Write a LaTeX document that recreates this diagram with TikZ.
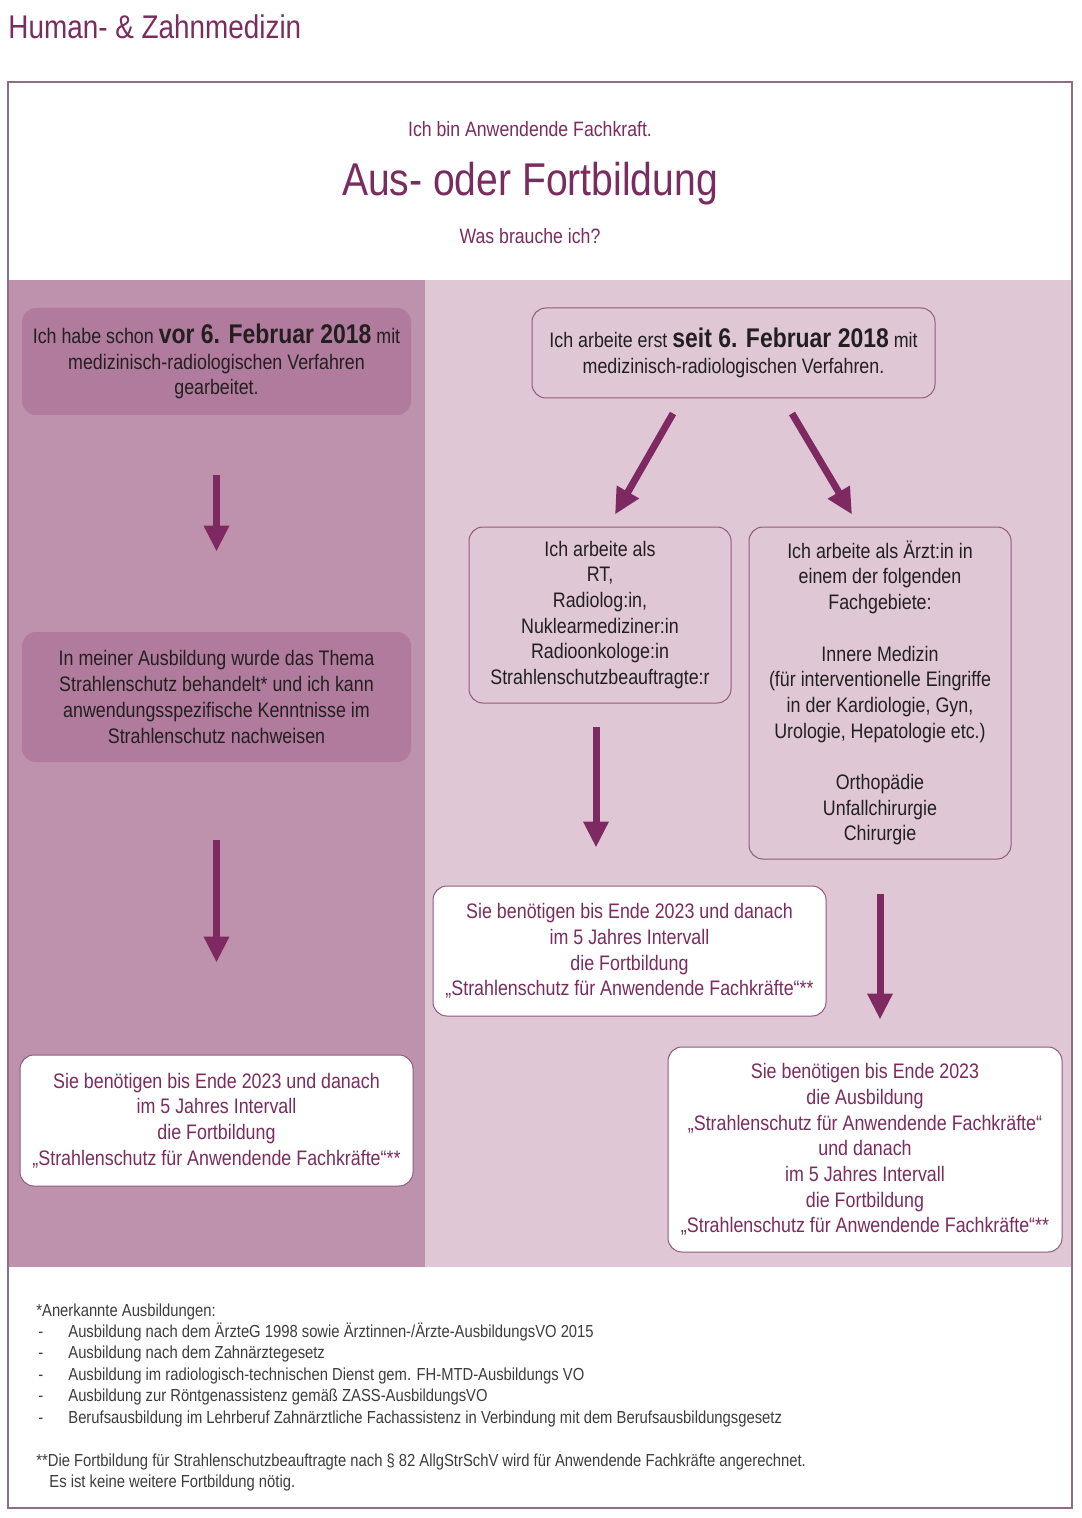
\documentclass[tikz,border=0pt]{standalone}
\usepackage{fontspec}
\setmainfont{Liberation Sans}[FakeStretch=0.85]
\usepackage{xcolor}
\usetikzlibrary{positioning,calc,arrows.meta}
\definecolor{plum}{HTML}{7A2C5E}
\definecolor{arrowplum}{HTML}{7E2962}
\definecolor{frameline}{HTML}{8C6E86}
\definecolor{leftpanel}{HTML}{BE91AD}
\definecolor{leftbox}{HTML}{B07B9C}
\definecolor{rightpanel}{HTML}{DFC7D6}
\definecolor{boxline}{HTML}{8E5A7E}
\definecolor{inktext}{HTML}{231F20}
\definecolor{notegray}{HTML}{3C3C3C}
\newcommand{\datum}[1]{{\fontsize{13.5}{12.85}\selectfont\bfseries #1}}

\begin{document}
\begin{tikzpicture}[x=0.5pt, y=-0.5pt,
  darkbox/.style={fill=leftbox, rounded corners=7pt, inner xsep=4pt, align=center, text=inktext, font=\fontsize{10.5}{12.85}\selectfont},
  linebox/.style={draw=boxline, line width=0.5pt, fill=rightpanel, rounded corners=7pt, inner xsep=4pt, align=center, text=inktext, font=\fontsize{10.5}{12.85}\selectfont},
  whitebox/.style={linebox, fill=white, text=plum},
  note/.style={inner sep=0pt, anchor=base west, text=notegray, font=\fontsize{8.7}{10.75}\selectfont},
  flow/.style={-{Triangle[length=13pt,width=12pt]}, line width=3.5pt, draw=arrowplum}]
\useasboundingbox (0,0) rectangle (1081,1518);
% Hintergrund
\fill[leftpanel] (8,280) rectangle (425,1267);
\fill[rightpanel] (425,280) rectangle (1072,1267);
\draw[frameline, line width=0.6pt] (8,82) rectangle (1072,1508);
% Kopf
\node[inner sep=0pt, anchor=base west, text=plum, font=\fontsize{16.4}{20}\selectfont] (rubrik) at (8,39) {Human- \& Zahnmedizin};
\node[inner sep=0pt, anchor=base, text=plum, font=\fontsize{10.4}{13}\selectfont] (rolle) at (530,137) {Ich bin Anwendende Fachkraft.};
\node[inner sep=0pt, anchor=base, text=plum, font=\fontsize{23}{28}\selectfont] (titel) at (530,196) {Aus- oder Fortbildung};
\node[inner sep=0pt, anchor=base, text=plum, font=\fontsize{10.4}{13}\selectfont] (frage) at (530,244) {Was brauche ich?};
% linke Spalte
\node[darkbox, minimum width=194.5pt, minimum height=53.5pt] (vor) at (216.5,361.5) {Ich habe schon \datum{vor 6. Februar 2018} mit\\medizinisch-radiologischen Verfahren\\gearbeitet.};
\node[darkbox, minimum width=194.5pt, minimum height=65pt] (ausb) at (216.5,697) {In meiner Ausbildung wurde das Thema\\Strahlenschutz behandelt* und ich kann\\anwendungsspezifische Kenntnisse im\\Strahlenschutz nachweisen};
\node[whitebox, minimum width=196.5pt, minimum height=65.5pt] (fortL) at (216.5,1120.5) {Sie benötigen bis Ende 2023 und danach\\im 5 Jahres Intervall\\die Fortbildung\\„Strahlenschutz für Anwendende Fachkräfte“**};
\draw[flow, shorten <=30pt, shorten >=40pt] (vor) -- (ausb);
\draw[flow, shorten <=39pt, shorten >=46pt] (ausb) -- (fortL);
% rechte Spalte
\node[linebox, minimum width=201.5pt, minimum height=45pt] (seit) at (733.5,353) {Ich arbeite erst \datum{seit 6. Februar 2018} mit\\medizinisch-radiologischen Verfahren.};
\node[linebox, minimum width=131pt, minimum height=88pt] (rt) at (600,615) {Ich arbeite als\\RT,\\Radiolog:in,\\Nuklearmediziner:in\\Radioonkologe:in\\Strahlenschutzbeauftragte:r};
\node[linebox, minimum width=131pt, minimum height=166pt] (arzt) at (880,693) {Ich arbeite als Ärzt:in in\\einem der folgenden\\Fachgebiete:\\[12.85pt]Innere Medizin\\(für interventionelle Eingriffe\\in der Kardiologie, Gyn,\\Urologie, Hepatologie etc.)\\[12.85pt]Orthopädie\\Unfallchirurgie\\Chirurgie};
\node[whitebox, minimum width=196.5pt, minimum height=65pt] (fortM) at (629.5,951) {Sie benötigen bis Ende 2023 und danach\\im 5 Jahres Intervall\\die Fortbildung\\„Strahlenschutz für Anwendende Fachkräfte“**};
\node[whitebox, minimum width=197pt, minimum height=102.5pt] (ausbR) at (865,1149.5) {Sie benötigen bis Ende 2023\\die Ausbildung\\„Strahlenschutz für Anwendende Fachkräfte“\\und danach\\im 5 Jahres Intervall\\die Fortbildung\\„Strahlenschutz für Anwendende Fachkräfte“**};
\draw[flow] ($(seit.south)+(-60.5,15)$) -- ($(rt.north)+(15,-12)$);
\draw[flow] ($(seit.south)+(58.5,15)$) -- ($(arzt.north)+(-28,-12)$);
\draw[flow] ($(rt.south)+(-4,23)$) -- ($(rt.south |- fortM.north)+(-4,-38)$);
\draw[flow, shorten <=17pt, shorten >=13.5pt] (arzt.south) -- (arzt.south |- ausbR.north);
% Fussnoten
\node[note] (anm) at (36,1316) {*Anerkannte Ausbildungen:};
\foreach \t [count=\i] in {Ausbildung nach dem ÄrzteG 1998 sowie Ärztinnen-/Ärzte-AusbildungsVO 2015, Ausbildung nach dem Zahnärztegesetz, Ausbildung im radiologisch-technischen Dienst gem. FH-MTD-Ausbildungs VO, Ausbildung zur Röntgenassistenz gemäß ZASS-AusbildungsVO, Berufsausbildung im Lehrberuf Zahnärztliche Fachassistenz in Verbindung mit dem Berufsausbildungsgesetz}{
  \node[note] (strich\i) at (38,1337+21.5*\i-21.5) {-};
  \node[note] (aus\i) at (68,1337+21.5*\i-21.5) {\t};
}
\node[note] (fort1) at (36,1466) {**Die Fortbildung für Strahlenschutzbeauftragte nach § 82 AllgStrSchV wird für Anwendende Fachkräfte angerechnet.};
\node[note] (fort2) at (49,1487) {Es ist keine weitere Fortbildung nötig.};
\end{tikzpicture}
\end{document}
